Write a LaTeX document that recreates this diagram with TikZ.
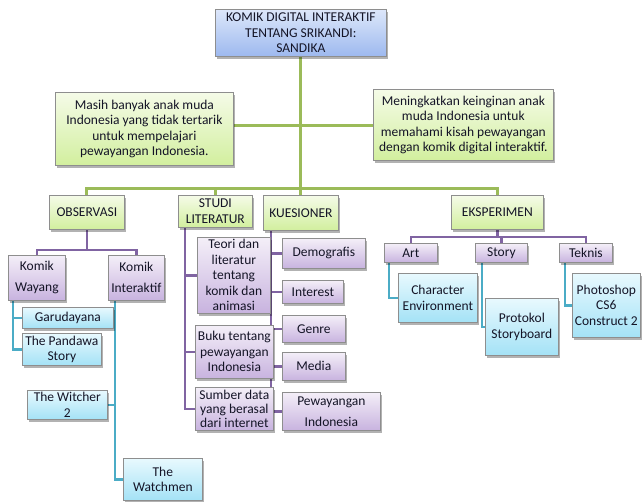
\documentclass[tikz,border=0pt]{standalone}
\usepackage{fontspec}
\setmainfont{Carlito}
\usetikzlibrary{shadows,backgrounds}
\definecolor{gline}{HTML}{9BBB59}
\definecolor{pline}{HTML}{8064A2}
\definecolor{tline}{HTML}{4BACC6}
\definecolor{blueT}{HTML}{DDE7FA}
\definecolor{blueB}{HTML}{9DB9EF}
\definecolor{greenT}{HTML}{F5FBE8}
\definecolor{greenB}{HTML}{D2EF9E}
\definecolor{purpT}{HTML}{F4EFF8}
\definecolor{purpB}{HTML}{C8B3DF}
\definecolor{tealT}{HTML}{E8F9FE}
\definecolor{tealB}{HTML}{A4E2F6}
\definecolor{bord}{HTML}{8E8E8E}
\definecolor{txt}{HTML}{141426}
\newcommand\bx[7]{\node[#2, anchor=north west, minimum width={(#5-#3)*1pt}, minimum height={(#6-#4)*1pt}] (#1) at (#3,#4) {#7};}
\begin{document}
\begin{tikzpicture}[x=1pt,y=-1pt,
  box/.style={draw=bord, line width=0.7pt, inner sep=1pt, align=center, text=txt,
    font=\fontsize{13.5}{15.5}\selectfont,
    drop shadow={shadow xshift=2pt, shadow yshift=-2.5pt, fill=black, opacity=0.3}},
  bluebox/.style={box, top color=blueT, bottom color=blueB},
  grnbox/.style={box, top color=greenT, bottom color=greenB},
  purbox/.style={box, top color=purpT, bottom color=purpB},
  tealbox/.style={box, top color=tealT, bottom color=tealB},
  wide/.style={font=\fontsize{13.5}{21}\selectfont},
  tight/.style={font=\fontsize{13.5}{14.2}\selectfont},
  gconn/.style={draw=gline, line width=3pt},
  pconn/.style={draw=pline, line width=2.6pt},
  tconn/.style={draw=tline, line width=2.6pt}]
\useasboundingbox (0,0) rectangle (642,501);

\bx{root}{bluebox}{215}{9}{386}{56}{KOMIK DIGITAL INTERAKTIF\\TENTANG SRIKANDI:\\SANDIKA}
\bx{left}{grnbox}{55}{92}{233}{165}{Masih banyak anak muda\\Indonesia yang tidak tertarik\\untuk mempelajari\\pewayangan Indonesia.}
\bx{right}{grnbox}{373}{89}{553}{160}{Meningkatkan keinginan anak\\muda Indonesia untuk\\memahami kisah pewayangan\\dengan komik digital interaktif.}
\bx{obs}{grnbox}{49}{195}{124}{229}{OBSERVASI}
\bx{stu}{grnbox}{178}{195}{252}{227}{STUDI\\LITERATUR}
\bx{kue}{grnbox}{263}{195}{338}{230}{KUESIONER}
\bx{eks}{grnbox}{451}{195}{543}{229}{EKSPERIMEN}
\bx{kw}{purbox,wide}{8}{255}{65}{300}{Komik\\Wayang}
\bx{ki}{purbox,wide}{108}{255}{164}{300}{Komik\\Interaktif}
\bx{gar}{tealbox}{22}{307}{113}{328}{Garudayana}
\bx{pan}{tealbox}{22}{333}{101}{365}{The Pandawa\\Story}
\bx{wit}{tealbox}{27}{390}{107}{419}{The Witcher\\2}
\bx{wat}{tealbox}{123}{458}{202}{500}{The\\Watchmen}
\bx{teo}{purbox}{197}{237}{270}{313}{Teori dan\\literatur\\tentang\\komik dan\\animasi}
\bx{buk}{purbox}{195}{325}{273}{378}{Buku tentang\\pewayangan\\Indonesia}
\bx{sum}{purbox,tight}{195}{387}{273}{430}{Sumber data\\yang berasal\\dari internet}
\bx{dem}{purbox}{282}{238}{365}{268}{Demografis}
\bx{int}{purbox}{282}{280}{343}{303}{Interest}
\bx{gen}{purbox}{282}{315}{345}{342}{Genre}
\bx{med}{purbox}{282}{352}{345}{380}{Media}
\bx{pew}{purbox,wide}{282}{392}{380}{430}{Pewayangan\\Indonesia}
\bx{art}{purbox}{384}{243}{437}{262}{Art}
\bx{sto}{purbox}{475}{243}{527}{262}{Story}
\bx{tek}{purbox}{559}{243}{612}{262}{Teknis}
\bx{cha}{tealbox}{398}{273}{477}{322}{Character\\Environment}
\bx{pro}{tealbox}{485}{298}{558}{355}{Protokol\\Storyboard}
\bx{pho}{tealbox}{572}{273}{640}{337}{Photoshop\\CS6\\Construct 2}

\coordinate (bus) at (0,188);
\coordinate (hy) at (0,125.5);
\coordinate (obar) at (0,250);
\coordinate (ebar) at (0,237);

\begin{pgfonlayer}{background}
\draw[gconn] (root.south) -- (root.south |- bus);
\draw[gconn] (left.east |- hy) -- (right.west |- hy);
\draw[gconn] (obs.north) -- (obs.north |- bus) -- (eks.north |- bus) -- (eks.north);
\draw[gconn] (stu.north) -- (stu.north |- bus);
\draw[gconn] (kue.north) -- (kue.north |- bus);

\draw[pconn] (obs.south) -- (obs.south |- obar);
\draw[pconn] (kw.north) -- (kw.north |- obar) -- (ki.north |- obar) -- (ki.north);
\coordinate (kwx) at ([xshift=5pt]kw.south west);
\draw[tconn] (kwx) |- (pan.west);
\draw[tconn] (kwx |- gar.west) -- (gar.west);
\coordinate (kix) at ([xshift=7pt]ki.south west);
\draw[tconn] (kix) |- (wat.west);
\draw[tconn] (kix |- wit.east) -- (wit.east);

\coordinate (stx) at ([xshift=7pt]stu.south west);
\draw[pconn] (stx) |- (sum.west);
\draw[pconn] (stx |- teo.west) -- (teo.west);
\draw[pconn] (stx |- buk.west) -- (buk.west);

\coordinate (kux) at ([xshift=8pt]kue.south west);
\draw[pconn] (kux) |- (pew.west);
\draw[pconn] (kux |- dem.west) -- (dem.west);
\draw[pconn] (kux |- int.west) -- (int.west);
\draw[pconn] (kux |- gen.west) -- (gen.west);
\draw[pconn] (kux |- med.west) -- (med.west);

\draw[pconn] (eks.south) -- (eks.south |- ebar);
\draw[pconn] (art.north) -- (art.north |- ebar) -- (tek.north |- ebar) -- (tek.north);
\draw[pconn] (sto.north) -- (sto.north |- ebar);
\draw[tconn] ([xshift=5pt]art.south west) |- (cha.west);
\draw[tconn] ([xshift=7pt]sto.south west) |- (pro.west);
\draw[tconn] ([xshift=6pt]tek.south west) |- (pho.west);
\end{pgfonlayer}
\end{tikzpicture}
\end{document}
